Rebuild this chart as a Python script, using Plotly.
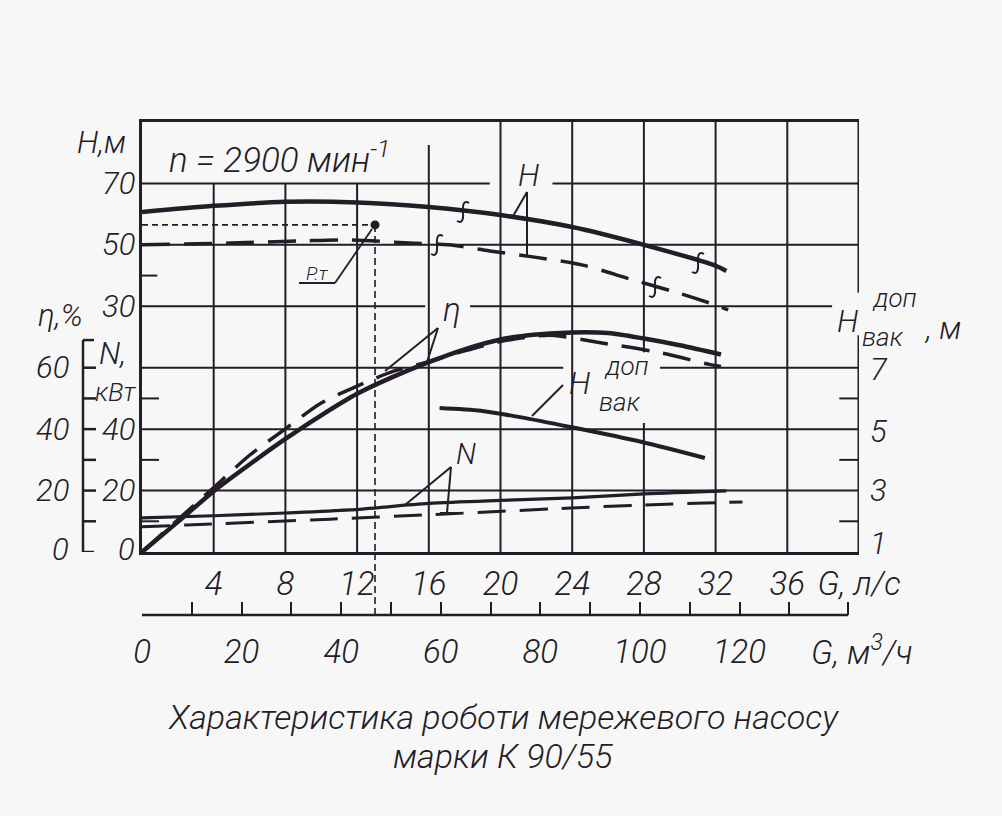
import plotly.graph_objects as go

# ---------------- data ----------------
# flow G in l/s
G_H_solid = [0, 4, 8, 12, 16, 20, 24, 28, 32, 32.6]
H_solid = [60.7, 62.7, 64.0, 63.8, 62.3, 59.7, 55.8, 50.0, 43.2, 41.5]

G_H_dash = [0, 5.0, 8.9, 11.7, 14.9, 17.1, 19.4, 21.9, 24.6, 27.2, 29.7, 32.0, 32.7]
H_dash = [50.0, 50.6, 51.3, 51.6, 50.6, 50.0, 48.0, 46.0, 43.4, 38.9, 34.7, 30.4, 28.8]

G_eta_solid = [0, 2, 4, 6, 8, 10, 12, 14, 16, 18, 20, 22, 24, 26, 28, 30, 32.3]
eta_solid = [0, 9.8, 19.8, 28.5, 36.8, 44.5, 51.5, 57.0, 61.8, 66.0, 69.2, 70.8, 71.5, 71.3, 69.5, 67.3, 64.3]

G_eta_dash = [0, 2, 4, 6, 8, 10, 12, 14, 16, 18, 20, 22, 23, 25.5, 28.9, 31.7, 32.3]
eta_dash = [0, 10.5, 21.0, 31.5, 40.1, 48.5, 54.0, 58.8, 62.0, 65.5, 68.5, 70.3, 70.5, 68.2, 64.9, 61.0, 60.4]

G_N_solid = [0, 4, 8, 11.6, 16, 20, 24, 28, 32.6]
N_solid = [11.1, 11.8, 12.7, 13.7, 15.8, 16.8, 17.6, 18.9, 19.9]

G_N_dash = [0, 2.5, 10.5, 15.9, 23.9, 27.9, 33.5]
N_dash = [8.2, 8.8, 10.7, 12.1, 14.3, 15.3, 16.3]

G_Hvak = [16.6, 18.9, 21.0, 23.9, 27.9, 31.4]
Hvak = [5.69, 5.60, 5.40, 5.07, 4.58, 4.06]

# operating point
G_op = 13.0
H_op = 56.5

# axis ticks
G_ls_ticks = [4, 8, 12, 16, 20, 24, 28, 32, 36]
G_m3h_ticks = [0, 20, 40, 60, 80, 100, 120]
G_m3h_minor = [10, 30, 50, 70, 90, 110, 130, 141.8]
H_ticks = [70, 50, 30]
eta_ticks = [60, 40, 20, 0]
N_ticks = [40, 20, 0]
Hvak_ticks = [7, 5, 3, 1]

# ---------------- style / layout helpers ----------------
INK = "#231d27"
BG = "#f7f7f7"
FONT = "Roboto, DejaVu Sans, sans-serif"

OFF = 8                      # page body margin
W, HGT = 1002 - 2 * OFF, 816 - 2 * OFF
PL, PR = 142, 859            # plot area left/right (page px)
PT, PB = 122, 615            # paper top/bottom (page px)
YB = 552                     # bottom of the grid (page px)


def px(x):
    return (x - PL) / (PR - PL)


def py(y):
    return (PB - y) / (PB - PT)


DOM0 = py(YB)


def f(size, weight=300, family=FONT):
    return dict(family=family, size=size, color=INK, style="italic", weight=weight)


fig = go.Figure()


# ---------------- curves ----------------
def curve(x, y, yaxis, width, dash="solid"):
    fig.add_trace(go.Scatter(
        x=x, y=y, yaxis=yaxis, mode="lines",
        line=dict(color=INK, width=width, dash=dash, shape="spline", smoothing=0.8),
        hoverinfo="skip", showlegend=False))


DASH = "28px,14px"
curve(G_N_dash, N_dash, "y2", 3, DASH)
curve(G_N_solid, N_solid, "y2", 3.2)
curve(G_Hvak, Hvak, "y3", 4)
curve(G_eta_dash, eta_dash, "y2", 3.5, DASH)
curve(G_eta_solid, eta_solid, "y2", 4.5)
curve(G_H_dash, H_dash, "y", 3.5, DASH)
curve(G_H_solid, H_solid, "y", 4.5)

# operating point
fig.add_trace(go.Scatter(x=[G_op], y=[H_op], mode="markers",
                         marker=dict(color=INK, size=9),
                         hoverinfo="skip", showlegend=False))

shapes = []


def line(x0, y0, x1, y1, xref, yref, width=2, dash="solid"):
    shapes.append(dict(type="line", x0=x0, y0=y0, x1=x1, y1=y1,
                       xref=xref, yref=yref, layer="below",
                       line=dict(color=INK, width=width, dash=dash)))


# vertical grid lines (in N/eta units: 0..140)
for g in G_ls_ticks:
    if g in (4, 8, 12):
        segs = [(0, 120)]
    elif g == 16:
        segs = [(0, 132.5)]
    elif g == 28:
        segs = [(0, 42), (65, 140)]
    else:
        segs = [(0, 140)]
    for a, b in segs:
        line(g, a, g, b, "x", "y2")

# horizontal grid lines with gaps for labels
hgrid = {
    20: [(0, 40)],
    40: [(0, 40)],
    60: [(0, 23.5), (28.9, 40)],
    80: [(0, 15.8), (18.3, 38.5)],
    100: [(0, 40)],
    120: [(0, 19.4), (22.9, 40)],
}
for lvl, segs in hgrid.items():
    for a, b in segs:
        line(a, lvl, b, lvl, "x", "y2")

# right border with gap for the label
line(40, 0, 40, 70.6, "x", "y2", 3)
line(40, 84.4, 40, 140, "x", "y2", 3)

# small ticks on the left border
line(0, 40, 0.85, 40, "x", "y", 2)
for v in (10, 30, 50):
    line(0, v, 0.95, v, "x", "y2", 2)
# ticks on the right border (H vak)
for v in (2, 4, 6):
    line(38.9, v, 40, v, "x", "y3", 2)

# eta bracket
bx = px(83)
line(bx, 0, bx, 69, "paper", "y2", 2.5)
line(bx, 0, px(94), 0, "paper", "y2", 2.5)
line(bx, 69, px(94), 69, "paper", "y2", 2.5)
for v in (10, 20, 30, 40, 50, 60):
    line(bx, v, px(96), v, "paper", "y2", 2.5)

# lower m3/h axis line
line(0, 0, 141.8, 0, "x2", "paper", 2.5)

# operating point guides
line(0, H_op, G_op, H_op, "x", "y", 1.6, "6px,4px")
line(G_op, H_op, G_op, -50, "x", "y", 1.6, "7px,4px")
line(G_op, 0, G_op, DOM0, "x", "paper", 1.6, "7px,4px")


# leader lines (in pixel positions converted to paper)
def lead(x0, y0, x1, y1, width=2):
    line(px(x0), py(y0), px(x1), py(y1), "paper", "paper", width)


lead(527, 192, 512, 218)
lead(527, 192, 527, 255)
lead(438, 328, 385, 371)
lead(438, 328, 427, 362)
lead(451, 467, 405, 505)
lead(451, 467, 447, 513)
lead(440, 513, 455, 513)
lead(563, 385, 532, 416)
lead(372, 229, 335, 283, 1.8)
lead(299, 283, 335, 283, 1.8)


# small hand-drawn break marks on the H curves
def squiggle(cx, cy):
    pts = [(cx + 6, cy - 9), (cx - 1, cy - 13), (cx, cy), (cx + 1, cy + 13), (cx - 6, cy + 9)]
    P = [(px(a), py(b)) for a, b in pts]
    path = "M {0[0]},{0[1]} Q {1[0]},{1[1]} {2[0]},{2[1]} Q {3[0]},{3[1]} {4[0]},{4[1]}".format(*P)
    shapes.append(dict(type="path", path=path, xref="paper", yref="paper",
                       line=dict(color=INK, width=2)))


for (xx, yy) in [(463, 212), (698, 263), (437, 245), (655, 287)]:
    squiggle(xx, yy)

ann = []


def txt(x, y, s, size, xref="paper", yref="paper", xanchor="center",
        yanchor="middle", yshift=0, family=FONT):
    ann.append(dict(x=x, y=y, text=s, xref=xref, yref=yref, showarrow=False,
                    xanchor=xanchor, yanchor=yanchor, yshift=yshift,
                    font=f(size, family=family)))


# left axes labels
txt(px(101), py(142), "H,м", 31)
for v in H_ticks:
    txt(px(137), v, str(v), 31, yref="y", xanchor="right")
txt(px(60), py(315), "η,%", 31)
for v in eta_ticks:
    txt(px(71), v, str(v), 31, yref="y2", xanchor="right", yshift=3 if v == 0 else 0)
txt(px(112), py(353), "N,", 31)
txt(px(116), py(392), "кВт", 26)
for v in N_ticks:
    txt(px(137), v, str(v), 31, yref="y2", xanchor="right", yshift=3 if v == 0 else 0)

# right axis labels
for v in Hvak_ticks:
    txt(px(868), v, str(v), 31, yref="y3", xanchor="left",
        yshift=9 if v == 1 else (-2 if v in (5, 7) else 0))
txt(px(847), py(321), "H", 31)
txt(px(894), py(298), "доп", 26)
txt(px(883), py(337), "вак", 26)
txt(px(942), py(328), ", м", 31)

# curve labels
txt(px(279), py(157), "n = 2900 мин<sup>-1</sup>", 35)
txt(px(528), py(175), "H", 31)
txt(px(452), py(309), "η", 33)
txt(px(466), py(454), "N", 29)
txt(px(579), py(383), "H", 31)
txt(px(626), py(366), "доп", 26)
txt(px(620), py(402), "вак", 26)
txt(px(317), py(273), "P.т", 19)

# lower axis title
txt(px(862), py(650), "G, м<sup>3</sup>/ч", 33)

# caption
txt(px(503), py(717), "Характеристика роботи мережевого насосу", 34)
txt(px(503), py(756), "марки К 90/55", 34)

fig.update_layout(
    width=W, height=HGT, autosize=False,
    margin=dict(l=PL - OFF, r=W - (PR - OFF), t=PT - OFF, b=HGT - (PB - OFF), pad=0),
    paper_bgcolor=BG, plot_bgcolor=BG,
    showlegend=False,
    xaxis=dict(range=[0, 40], showgrid=False, zeroline=False,
               showline=True, linecolor=INK, linewidth=3, mirror=True,
               tickvals=G_ls_ticks + [40],
               ticktext=[str(v) for v in G_ls_ticks] + ["G, л/с"],
               ticks="", tickfont=f(33), ticklabelstandoff=0, fixedrange=True),
    xaxis2=dict(range=[0, 40 * 3.6], overlaying="x", anchor="free", position=0,
                side="bottom", showgrid=False, zeroline=False, showline=False,
                tickvals=G_m3h_ticks,
                ticktext=[str(v) for v in G_m3h_ticks],
                ticks="inside", ticklen=13, tickwidth=2.2, tickcolor=INK,
                minor=dict(tickvals=G_m3h_minor, ticks="inside", ticklen=13,
                           tickwidth=2.2, tickcolor=INK, showgrid=False),
                tickfont=f(33), ticklabelstandoff=14, fixedrange=True),
    yaxis=dict(domain=[DOM0, 1], range=[-50, 90], showgrid=False, zeroline=False,
               showline=True, linecolor=INK, linewidth=3,
               showticklabels=False, ticks="", fixedrange=True),
    yaxis2=dict(range=[0, 140], overlaying="y", showgrid=False, zeroline=False,
                showline=False, showticklabels=False, ticks="", fixedrange=True),
    yaxis3=dict(range=[1, 15], overlaying="y", showgrid=False, zeroline=False,
                showline=False, showticklabels=False, ticks="", fixedrange=True),
    shapes=shapes,
    annotations=ann,
)

fig.write_html("out.html", post_script="document.body.style.background='%s';" % BG)
